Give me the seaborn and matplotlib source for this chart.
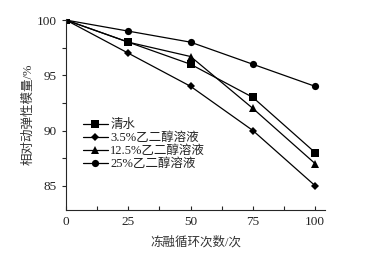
import pandas as pd
import numpy as np
import matplotlib
matplotlib.use("Agg")
import matplotlib.pyplot as plt
import seaborn as sns
from matplotlib.ticker import MultipleLocator

cycles = [0, 25, 50, 75, 100]
series_names = ["清水", "3.5%乙二醇溶液", "12.5%乙二醇溶液", "25%乙二醇溶液"]
water = [100, 98, 96, 93, 88]
glycol_3_5 = [100, 97, 94, 90, 85]
glycol_12_5 = [100, 98, 96.7, 92, 87]
glycol_25 = [100, 99, 98, 96, 94]

sns.set_style("ticks")
plt.rcParams['font.family'] = ['Liberation Serif', 'Noto Sans CJK SC']
plt.rcParams['font.size'] = 9


def BuildFrame():
    rows = []
    for name, vals in zip(series_names, [water, glycol_3_5, glycol_12_5, glycol_25]):
        for c, v in zip(cycles, vals):
            rows.append({"cycle": c, "value": v, "series": name})
    return pd.DataFrame(rows)


def FixMarkers(lines):
    # diamonds look bigger than the others, shrink them
    for ln in lines:
        if ln.get_marker() == "D":
            ln.set_markersize(4.2)
        elif ln.get_marker() in ("s", "^", "o"):
            ln.set_markersize(5.2)
        ln.set_markeredgewidth(0)


def PlotGraph(df):
    fig = plt.figure(figsize=(3.67, 2.6), dpi=100)
    ax = fig.add_axes([0.18, 0.192, 0.706, 0.735])

    markers = {series_names[0]: "s", series_names[1]: "D",
               series_names[2]: "^", series_names[3]: "o"}
    palette = {n: "black" for n in series_names}
    sns.lineplot(data=df, x="cycle", y="value", hue="series", style="series",
                 markers=markers, dashes=False, palette=palette,
                 linewidth=0.9, ax=ax)
    FixMarkers(ax.get_lines())

    ax.set_xlim(0, 104)
    ax.set_ylim(82.8, 100.1)
    ax.xaxis.set_major_locator(MultipleLocator(25))
    ax.xaxis.set_minor_locator(MultipleLocator(12.5))
    ax.yaxis.set_major_locator(MultipleLocator(5))
    ax.yaxis.set_minor_locator(MultipleLocator(2.5))
    ax.tick_params(axis="x", which="both", direction="in", length=3, width=0.8)
    ax.tick_params(axis="y", which="both", direction="out", length=3, width=0.8)
    ax.tick_params(axis="both", labelsize=9.5, pad=4, labelcolor="#222222")
    sns.despine(ax=ax)
    for s in ["left", "bottom"]:
        ax.spines[s].set_linewidth(0.8)

    ax.set_xlabel("冻融循环次数/次", fontsize=9, color="#333333", labelpad=6)
    ax.set_ylabel("相对动弹性模量/%", fontsize=9, color="#333333", labelpad=1)

    leg = ax.legend(title=None, frameon=False, loc="upper left",
                    bbox_to_anchor=(0.03, 0.52), handlelength=2.0,
                    handletextpad=0.2, labelspacing=0.08, borderaxespad=0.3,
                    fontsize=9)
    FixMarkers(leg.get_lines())
    for t in leg.get_texts():
        t.set_color("#222222")

    fig.savefig("out.png", dpi=100)


def main():
    df = BuildFrame()
    PlotGraph(df)


if __name__ == "__main__":
    main()
